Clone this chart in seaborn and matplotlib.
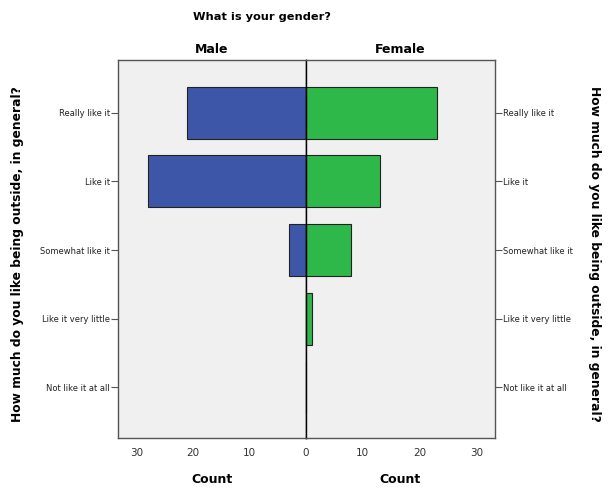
import matplotlib
matplotlib.use("Agg")
import pandas as pd
import matplotlib.pyplot as plt
import seaborn as sns

sns.set_style("white")
plt.rcParams["font.family"] = ["DejaVu Sans"]
plt.rcParams["text.color"] = "black"

# data
categories = ["Really like it", "Like it", "Somewhat like it", "Like it very little", "Not like it at all"]
male_counts = [21, 28, 3, 0, 0]
female_counts = [23, 13, 8, 1, 0]
count_ticks = [0, 10, 20, 30]

df = pd.DataFrame({"answer": categories, "Male": male_counts, "Female": female_counts})

blue = "#3d56a8"
green = "#2fb84a"
bg = "#f0f0f0"
frame = "#555555"

fig = plt.figure(figsize=(6.08, 4.90), dpi=100)
axL = fig.add_axes([118 / 608, 52 / 490, 188 / 608, 378 / 490])
axR = fig.add_axes([306 / 608, 52 / 490, 189 / 608, 378 / 490])

sns.barplot(data=df, x="Male", y="answer", ax=axL, color=blue, width=0.76,
            edgecolor="#222222", linewidth=0.8, saturation=1)
sns.barplot(data=df, x="Female", y="answer", ax=axR, color=green, width=0.76,
            edgecolor="#222222", linewidth=0.8, saturation=1)

for ax in (axL, axR):
    ax.set_facecolor(bg)
    ax.set_xlim(0, 33.3)
    ax.set_ylim(4.74, -0.77)
    ax.set_xticks(count_ticks)
    ax.set_xlabel("Count", fontsize=9, fontweight="bold", labelpad=11, color="black")
    ax.set_ylabel("")
    ax.tick_params(axis="x", labelsize=7.5, length=3, width=0.8, color=frame, pad=4,
                   labelcolor="#333333")
    ax.tick_params(axis="y", labelsize=6, length=5, width=0.8, color=frame, pad=1,
                   labelcolor="#222222")
    for s in ax.spines.values():
        s.set_color(frame)
        s.set_linewidth(1.0)

axR.set_xticklabels([""] + [str(t) for t in count_ticks[1:]])
axL.invert_xaxis()
axL.spines["right"].set_color("black")
axR.spines["left"].set_color("black")
axR.yaxis.tick_right()
axR.tick_params(axis="y", left=False, right=True)
axL.tick_params(axis="y", left=True)

axL.set_title("Male", fontsize=9, fontweight="bold", pad=5, color="black")
axR.set_title("Female", fontsize=9, fontweight="bold", pad=5, color="black")

fig.text(262 / 608, 1 - 17 / 490, "What is your gender?", ha="center", va="center",
         fontsize=8.2, fontweight="bold")
fig.text(18 / 608, 1 - 254 / 490, "How much do you like being outside, in general?", rotation=90,
         ha="center", va="center", fontsize=8.8, fontweight="bold")
fig.text(594 / 608, 1 - 254 / 490, "How much do you like being outside, in general?", rotation=270,
         ha="center", va="center", fontsize=8.8, fontweight="bold")

fig.savefig("out.png", dpi=100, facecolor="white")
